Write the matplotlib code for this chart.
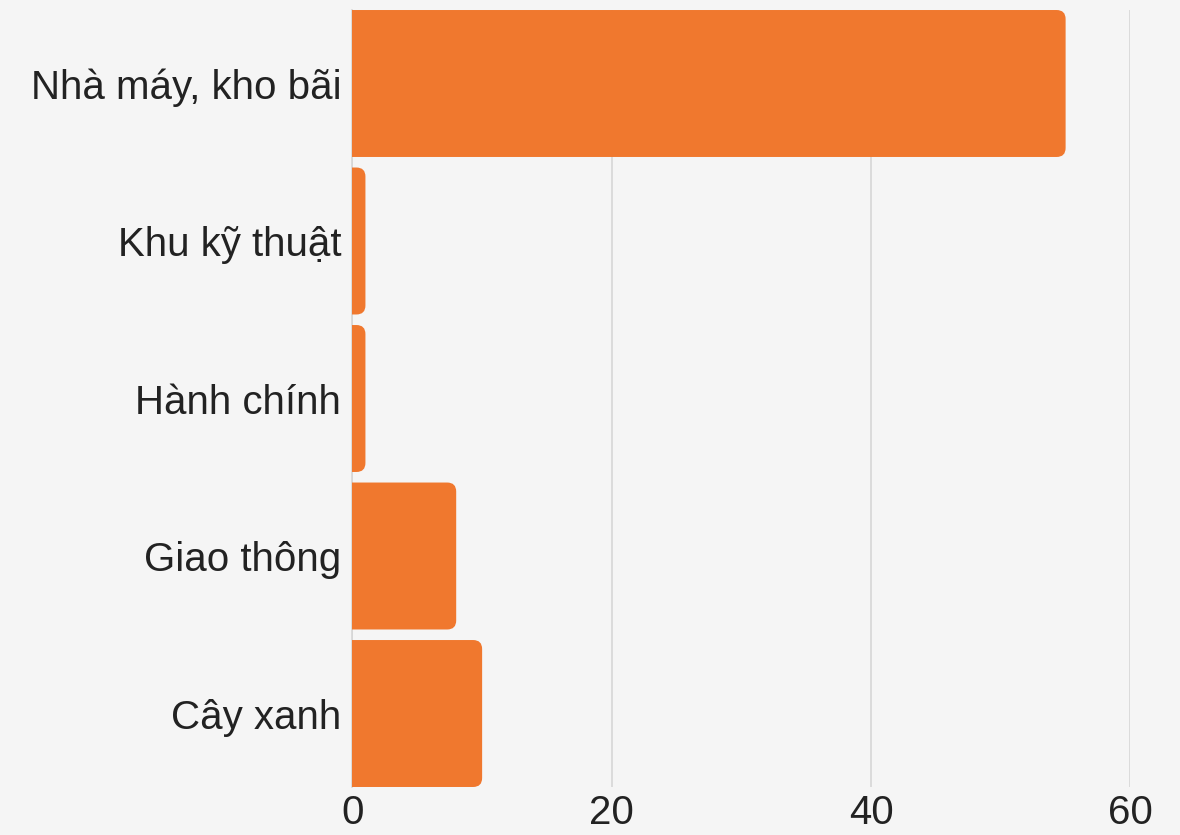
import matplotlib
matplotlib.use("Agg")
import matplotlib.pyplot as plt
from matplotlib.patches import FancyBboxPatch

categories = ["Nhà máy, kho bãi", "Khu kỹ thuật", "Hành chính", "Giao thông", "Cây xanh"]
values = [55, 1, 1, 8, 10]
xticks = [0, 20, 40, 60]

bg = "#f5f5f5"
orange = "#f0782e"

plt.rcParams['font.family'] = ['Liberation Sans', 'DejaVu Sans']

fig = plt.figure(figsize=(11.8, 8.35), dpi=100, facecolor=bg)
ax = fig.add_axes([0.2987, 0.0575, 0.9580 - 0.2987, 0.988 - 0.0575])
ax.set_facecolor(bg)

bar_h = 0.933
ypos = list(range(len(categories)))
bars = ax.barh(ypos, values, height=bar_h, color=orange)

ax.set_xlim(0, 60)
ax.set_ylim(len(categories) - 1 + bar_h / 2, -bar_h / 2)

# swap plain bars for ones with rounded right corners
fig.canvas.draw()
px_x = ax.transData.transform((1, 0))[0] - ax.transData.transform((0, 0))[0]
px_y = abs(ax.transData.transform((0, 1))[1] - ax.transData.transform((0, 0))[1])
r = 9 / px_x
for b in bars:
    b.set_visible(False)
    x0, y0 = b.get_x(), b.get_y()
    w, h = b.get_width(), b.get_height()
    p = FancyBboxPatch((x0 - r, y0), w + r, h,
                       boxstyle="round,pad=0,rounding_size=%f" % r,
                       mutation_aspect=px_x / px_y,
                       fc=orange, ec="none", zorder=3)
    ax.add_patch(p)

ax.set_xticks(xticks)
ax.set_yticks(ypos)
ax.set_yticklabels(categories)
ax.tick_params(axis='both', length=0, labelsize=29, colors="#222222")
ax.tick_params(axis='x', pad=5)
ax.tick_params(axis='y', pad=8)
ax.grid(axis='x', color="#d6d6d6", lw=1.2, zorder=0)
ax.set_axisbelow(True)
for s in ['top', 'right', 'bottom']:
    ax.spines[s].set_visible(False)
ax.spines['left'].set_color("#d6d6d6")
ax.spines['left'].set_linewidth(1.2)

fig.savefig("out.png", dpi=100, facecolor=bg)
